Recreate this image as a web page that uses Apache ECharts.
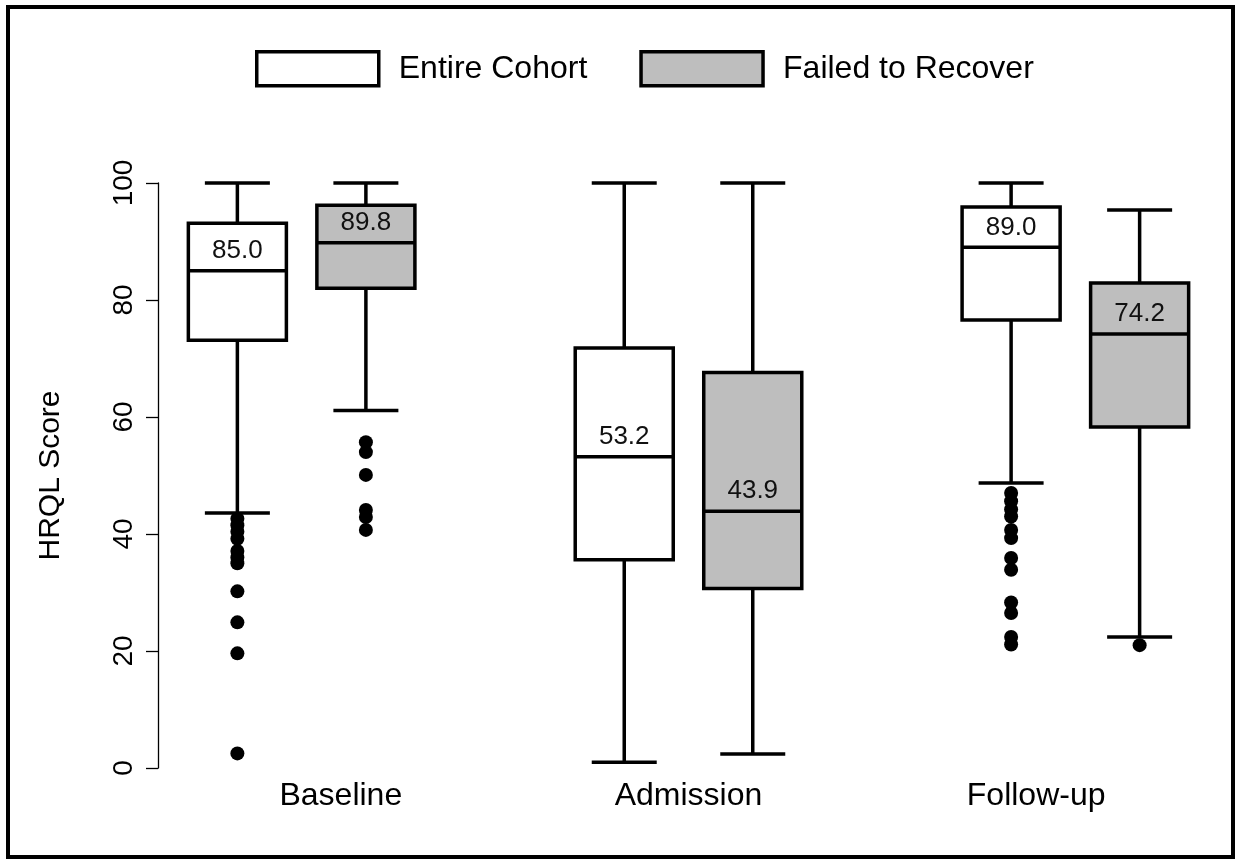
<!DOCTYPE html>
<html><head><meta charset="utf-8">
<script src="https://cdn.jsdelivr.net/npm/echarts@6/dist/echarts.min.js"></script>
<style>html,body{margin:0;padding:0;background:#fff}#c{width:1235px;height:859px}</style>
</head><body><div id="c"></div><script>
const groups = ['Baseline', 'Admission', 'Follow-up'];
const seriesNames = ['Entire Cohort', 'Failed to Recover'];
// each row: [min whisker, Q1, median, Q3, max whisker]
const entireStats = [
  [43.6, 73.1, 85.0, 93.1, 100],
  [1.0, 35.6, 53.2, 71.8, 100],
  [48.7, 76.6, 89.0, 95.9, 100]
];
const failedStats = [
  [61.1, 82.0, 89.8, 96.2, 100],
  [2.4, 30.7, 43.9, 67.6, 100],
  [22.4, 58.3, 74.2, 82.9, 95.4]
];
const entireOutliers = [
  [42.6, 41.5, 40.4, 39.2, 37.1, 36.0, 35.0, 30.2, 24.9, 19.6, 2.5],
  [],
  [47.0, 45.6, 44.2, 43.0, 40.7, 39.3, 35.9, 33.9, 28.3, 26.5, 22.4, 21.1]
];
const failedOutliers = [
  [55.7, 54.0, 50.1, 44.1, 42.9, 40.7],
  [],
  [21.0]
];
const yTicks = [0, 20, 40, 60, 80, 100];

const FONT = '"Liberation Sans", Arial, sans-serif';
const OFFSET = 0.1661;   // half distance between paired boxes (axis units)
const BOX_HALF = 0.1267; // half box width (axis units)
const CAP_HALF = 0.084;  // half whisker cap width
const LW = 3.5;

function makeRender(fill) {
  return function (params, api) {
    const x = api.value(0);
    const v = [api.value(1), api.value(2), api.value(3), api.value(4), api.value(5)];
    const pMin = api.coord([x, v[0]]), pQ1 = api.coord([x, v[1]]), pMed = api.coord([x, v[2]]),
          pQ3 = api.coord([x, v[3]]), pMax = api.coord([x, v[4]]);
    const hw = api.size([BOX_HALF * 2, 0])[0] / 2;
    const cw = api.size([CAP_HALF * 2, 0])[0] / 2;
    const cx = pMed[0];
    const ls = { stroke: '#000', lineWidth: LW };
    return {
      type: 'group',
      children: [
        { type: 'line', shape: { x1: cx, y1: pMax[1], x2: cx, y2: pQ3[1] }, style: ls },
        { type: 'line', shape: { x1: cx, y1: pQ1[1], x2: cx, y2: pMin[1] }, style: ls },
        { type: 'line', shape: { x1: cx - cw, y1: pMax[1], x2: cx + cw, y2: pMax[1] }, style: ls },
        { type: 'line', shape: { x1: cx - cw, y1: pMin[1], x2: cx + cw, y2: pMin[1] }, style: ls },
        { type: 'rect', shape: { x: cx - hw, y: pQ3[1], width: 2 * hw, height: pQ1[1] - pQ3[1] },
          style: { fill: fill, stroke: '#000', lineWidth: LW } },
        { type: 'line', shape: { x1: cx - hw, y1: pMed[1], x2: cx + hw, y2: pMed[1] }, style: ls },
        { type: 'text', x: cx, y: pMed[1] - 7,
          style: { text: v[2].toFixed(1), fill: '#111', font: '26px ' + FONT, align: 'center', verticalAlign: 'bottom' } }
      ]
    };
  };
}

function boxData(stats, off) {
  return stats.map((s, i) => [i + 1 + off].concat(s));
}
function outlierData(outs, off) {
  const res = [];
  outs.forEach((arr, i) => arr.forEach(v => res.push([i + 1 + off, v])));
  return res;
}

const chart = echarts.init(document.getElementById('c'), null, { renderer: 'canvas' });
chart.setOption({
  animation: false,
  backgroundColor: '#fff',
  textStyle: { fontFamily: FONT },
  graphic: [{
    type: 'rect', shape: { x: 8, y: 7, width: 1225, height: 850 },
    style: { fill: 'none', stroke: '#000', lineWidth: 4 }, silent: true, z: 100
  }],
  legend: {
    left: 255, top: 50, padding: 0, itemWidth: 122, itemHeight: 34, itemGap: 52, icon: 'rect',
    textStyle: { fontSize: 32, color: '#000', fontFamily: FONT, padding: [0, 0, 0, 15] },
    data: [
      { name: seriesNames[0], itemStyle: { color: '#fff', borderColor: '#000', borderWidth: 3.5 } },
      { name: seriesNames[1], itemStyle: { color: '#bebebe', borderColor: '#000', borderWidth: 3.5 } }
    ]
  },
  grid: { left: 167, right: 25, top: 183, bottom: 91, containLabel: false },
  xAxis: [
    { type: 'category', data: groups, position: 'bottom',
      axisLine: { show: false }, axisTick: { show: false },
      axisLabel: { fontSize: 32, color: '#000', fontFamily: FONT, margin: 12 } },
    { type: 'value', min: 0.652, max: 3.348, show: false }
  ],
  yAxis: {
    type: 'value', min: 0, max: 100, interval: 20, offset: 9,
    name: 'HRQL Score', nameLocation: 'middle', nameGap: 92,
    nameTextStyle: { fontSize: 30, color: '#000', fontFamily: FONT },
    axisLine: { show: true, lineStyle: { color: '#000', width: 1.3 } },
    axisTick: { show: true, length: 12, lineStyle: { color: '#000', width: 1.3 } },
    axisLabel: { rotate: 90, fontSize: 28, color: '#000', fontFamily: FONT, margin: 20,
      formatter: v => (yTicks.indexOf(v) >= 0 ? String(v) : '') },
    splitLine: { show: false }
  },
  series: [
    { name: seriesNames[0], type: 'custom', xAxisIndex: 1, yAxisIndex: 0, clip: false,
      itemStyle: { color: '#fff', borderColor: '#000' },
      renderItem: makeRender('#fff'), encode: { x: 0, y: [1, 2, 3, 4, 5] },
      data: boxData(entireStats, -OFFSET) },
    { name: seriesNames[1], type: 'custom', xAxisIndex: 1, yAxisIndex: 0, clip: false,
      itemStyle: { color: '#bebebe', borderColor: '#000' },
      renderItem: makeRender('#bebebe'), encode: { x: 0, y: [1, 2, 3, 4, 5] },
      data: boxData(failedStats, OFFSET) },
    { name: seriesNames[0], type: 'scatter', xAxisIndex: 1, yAxisIndex: 0, symbolSize: 14,
      itemStyle: { color: '#000', opacity: 1 }, data: outlierData(entireOutliers, -OFFSET), z: 3 },
    { name: seriesNames[1], type: 'scatter', xAxisIndex: 1, yAxisIndex: 0, symbolSize: 14,
      itemStyle: { color: '#000', opacity: 1 }, data: outlierData(failedOutliers, OFFSET), z: 3 }
  ]
});
</script></body></html>
